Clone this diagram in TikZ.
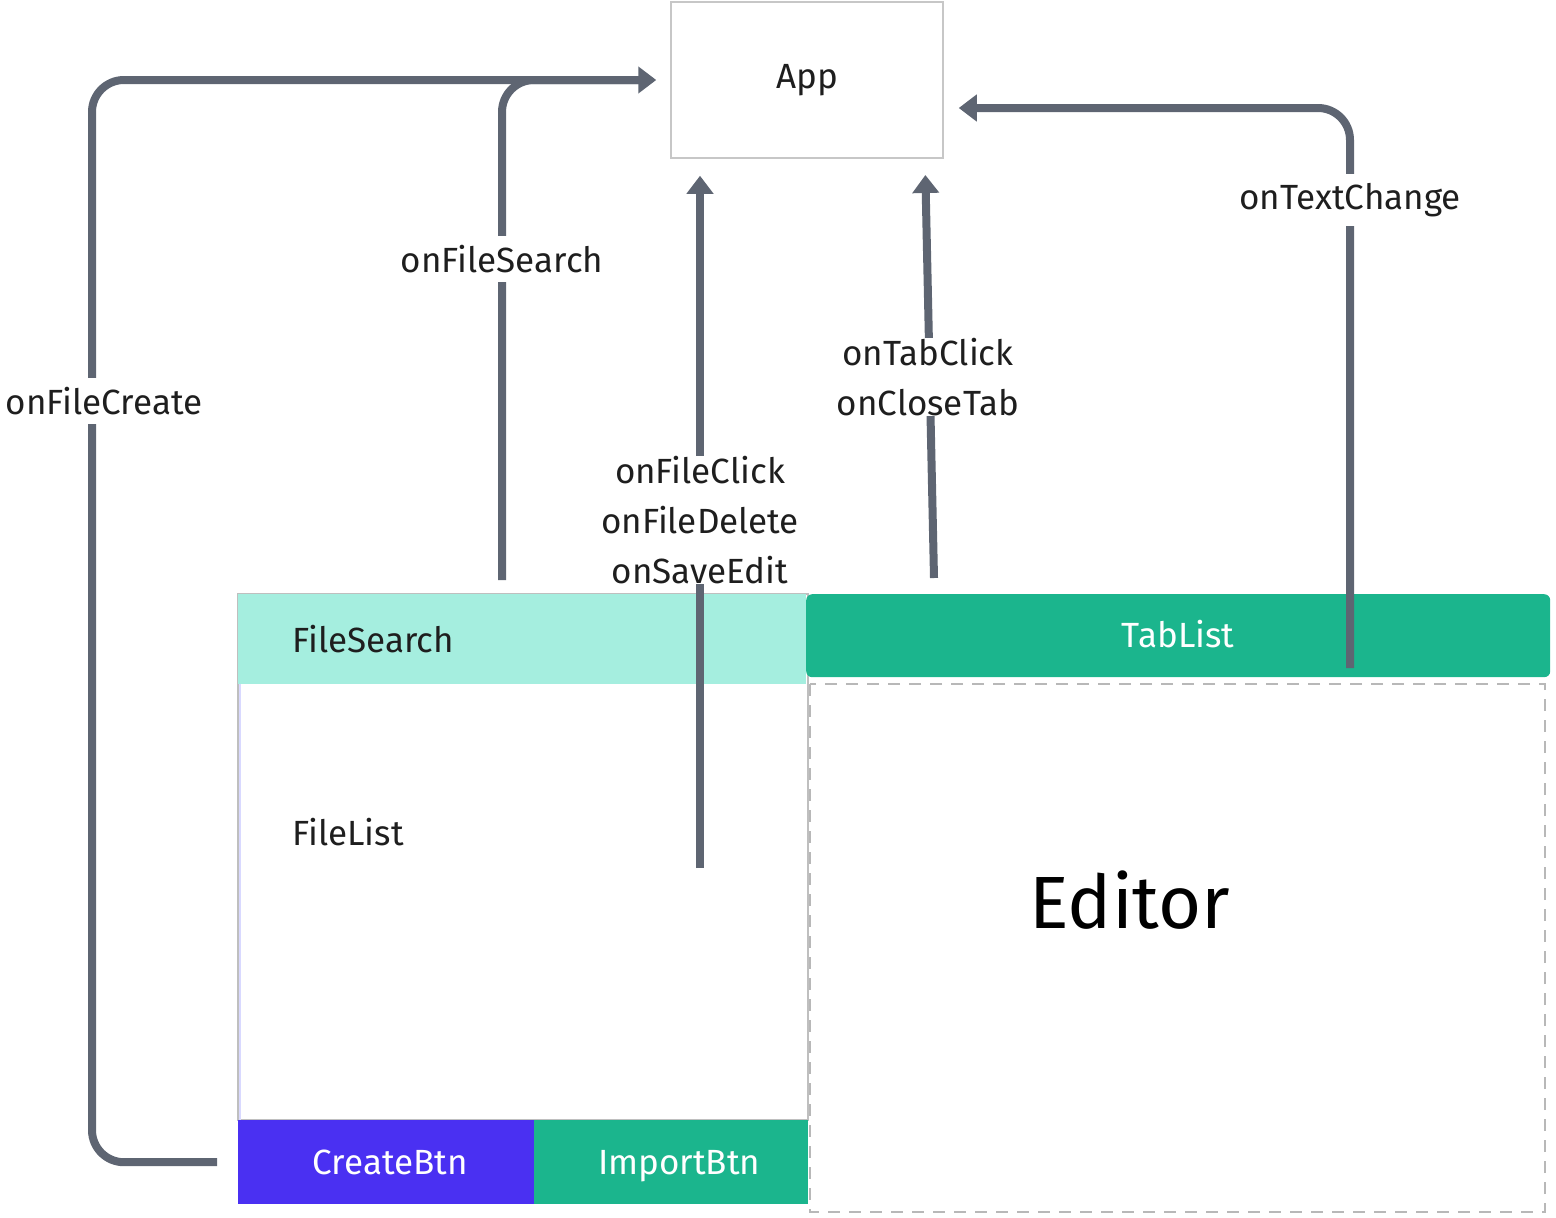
\documentclass[tikz,border=0pt]{standalone}
\usepackage{fontspec}
\setmainfont{Fira Sans}
\usetikzlibrary{arrows.meta,positioning}
\definecolor{wire}{HTML}{5E6572}
\definecolor{aqua}{HTML}{A5EEDF}
\definecolor{mint}{HTML}{1BB58D}
\definecolor{violet}{HTML}{4A30F2}
\definecolor{txt}{HTML}{1E1E1E}
\tikzset{>={Triangle[length=18pt,width=26pt]},
         flow/.style={draw=wire, line width=8pt, rounded corners=32pt},
         tag/.style={fill=white, text=txt, inner xsep=2pt, inner ysep=9pt,
                     font=\fontsize{35}{50}\selectfont, align=center},
         bar/.style={inner sep=0pt, anchor=north west},
         bartext/.style={font=\fontsize{35}{42}\selectfont, text height=28pt, text depth=4pt}}

\begin{document}
\begin{tikzpicture}[x=1pt, y=-1pt]
  \useasboundingbox (0,0) rectangle (1556,1218);

  % components
  \node[draw=black!22, line width=1.5pt, fill=white, minimum width=272pt, minimum height=156pt,
        font=\fontsize{35}{42}\selectfont, text=txt] (app) at (807,80) {App};
  \draw[black!25, line width=1.5pt] (238,594) rectangle (808,1120);
  \draw[blue!15, line width=2pt] (240,684) -- (240,1120);
  \node[bar, fill=aqua, minimum width=568pt, minimum height=90pt] (filesearch) at (238,594) {};
  \node[bartext, anchor=west, text=txt] at (289,640) {FileSearch};
  \node[bartext, anchor=west, text=txt] (filelist) at (289,833) {FileList};
  \node[bar, fill=violet, minimum width=296pt, minimum height=84pt] (createbtn) at (238,1120) {};
  \node[bartext, text=white] at ([xshift=4pt]createbtn.center) {CreateBtn};
  \node[bar, fill=mint, minimum width=274pt, minimum height=84pt] (importbtn) at (534,1120) {};
  \node[bartext, text=white] at ([xshift=8pt]importbtn.center) {ImportBtn};
  \node[bar, fill=mint, rounded corners=6pt, minimum width=744pt, minimum height=83pt] (tablist) at (806,594) {};
  \node[bartext, text=white] at (tablist.center) {TabList};
  \draw[black!28, line width=2pt, dash pattern=on 12pt off 9pt] (810,684) rectangle (1545,1212);
  \node[text=black, font=\fontsize{74}{86}\selectfont] (editor) at (1130,900) {Editor};

  % connectors
  \coordinate (fs) at (502,580);
  \coordinate (fc) at (700,868);
  \coordinate (tc) at (934,578);
  \coordinate (tx) at (1350,668);
  \draw[flow] (fs) |- (640,80);
  \draw[flow,->,shorten <=21pt] (createbtn.west) -| (92,80) -- ([xshift=-14pt]app.west);
  \draw[flow,->,shorten >=17pt] (fc) -- (app.south -| fc);
  \draw[flow,->,shorten >=17pt] (tc) -- (925,158);
  \draw[flow,->] (tx) |- ([xshift=15pt,yshift=-28pt]app.east);

  % labels
  \node[tag] (lcreate) at (104,401) {onFileCreate};
  \node[tag] (lsearch) at (502,259) {onFileSearch};
  \node[tag, inner ysep=0pt] (lclick) at (700,520) {onFileClick\\onFileDelete\\onSaveEdit};
  \node[tag, inner ysep=0pt] (ltab) at (928,377) {onTabClick\\onCloseTab};
  \node[tag] (ltext) at (1350,200) {onTextChange};
\end{tikzpicture}
\end{document}
